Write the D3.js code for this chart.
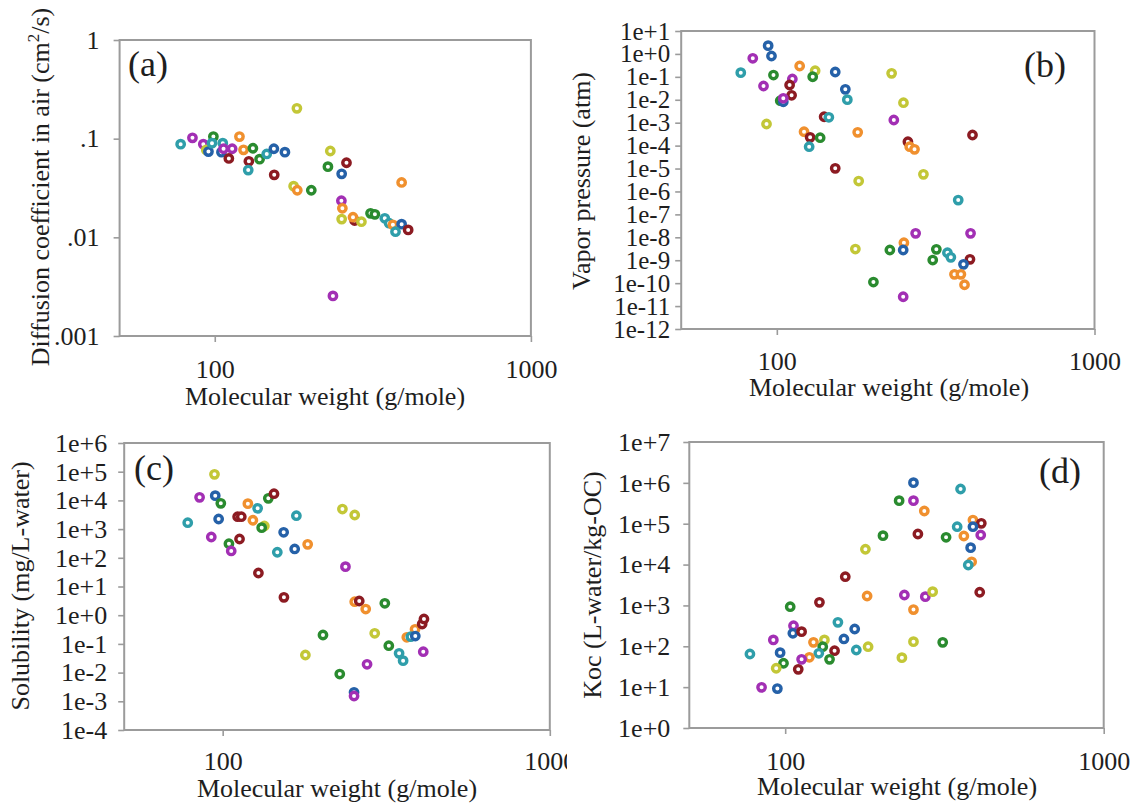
<!DOCTYPE html>
<html>
<head>
<meta charset="utf-8">
<script src="https://cdn.jsdelivr.net/npm/d3@7"></script>
<style>
  body { margin: 0; background: #fff; }
  svg { display: block; }
  text { font-family: "Liberation Serif", "Times New Roman", serif; fill: #1e1e1e; }
</style>
</head>
<body>
<svg id="chart" width="1136" height="808"></svg>
<script>
// Marker colours, one per chemical group
const palette = {
  teal: "#2f9eaa", purple: "#a22fb4", blue: "#2561a8", green: "#2a8b2f",
  orange: "#f0902e", yellow: "#c3c737", darkred: "#8c1b22"
};

// Each row: [molecular weight (g/mole), property value, colour group]
const diffusionAir = [
  [78, 0.088, "teal"], [85, 0.102, "purple"], [99, 0.105, "green"], [92, 0.088, "purple"],
  [94, 0.077, "yellow"], [95.5, 0.074, "blue"], [98, 0.09, "teal"], [106, 0.09, "teal"],
  [105, 0.073, "blue"], [106.6, 0.079, "purple"], [113.5, 0.079, "purple"], [110.8, 0.063, "darkred"],
  [119.7, 0.105, "orange"], [123.3, 0.077, "orange"], [132, 0.08, "green"], [128.2, 0.059, "darkred"],
  [127.6, 0.048, "teal"], [138.6, 0.062, "green"], [146, 0.07, "teal"], [153.8, 0.079, "blue"],
  [166.7, 0.073, "blue"], [154.2, 0.043, "darkred"], [181.9, 0.203, "yellow"], [232, 0.075, "yellow"],
  [228, 0.052, "green"], [261, 0.057, "darkred"], [252, 0.044, "blue"], [177.6, 0.033, "yellow"],
  [182.4, 0.030, "orange"], [202, 0.030, "green"], [390, 0.036, "orange"], [251.5, 0.0235, "purple"],
  [253.3, 0.0197, "orange"], [252, 0.0153, "yellow"], [277, 0.0148, "darkred"], [273.7, 0.016, "orange"],
  [291, 0.0144, "yellow"], [311, 0.0175, "green"], [321, 0.0171, "green"], [345, 0.0156, "teal"],
  [356, 0.0139, "teal"], [366, 0.0134, "orange"], [390, 0.0136, "blue"], [373, 0.0114, "teal"],
  [409, 0.0119, "darkred"], [236.5, 0.00255, "purple"]
];

const vaporPressure = [
  [93.9, 2.29, "blue"], [96.2, 0.81, "blue"], [84, 0.644, "purple"], [77, 0.152, "teal"],
  [97.6, 0.12, "green"], [118, 0.297, "orange"], [132, 0.185, "yellow"], [129.7, 0.101, "green"],
  [152.7, 0.163, "blue"], [111.9, 0.0805, "purple"], [109.7, 0.044, "darkred"], [90.8, 0.0398, "purple"],
  [111.3, 0.0157, "darkred"], [102.5, 0.0091, "green"], [104.8, 0.0082, "blue"], [104.8, 0.0116, "purple"],
  [164.3, 0.0286, "blue"], [166.7, 0.0101, "teal"], [140.9, 0.00182, "darkred"], [145.8, 0.00172, "teal"],
  [92.8, 0.000875, "yellow"], [121.8, 4.04e-4, "orange"], [127.3, 2.3e-4, "darkred"], [136.9, 2.21e-4, "green"],
  [126.4, 8.95e-5, "teal"], [179.7, 3.8e-4, "orange"], [152.7, 1.02e-5, "darkred"], [181, 2.85e-6, "yellow"],
  [229.8, 0.1426, "yellow"], [250.4, 0.00745, "yellow"], [233.5, 1.31e-3, "purple"], [258.6, 1.48e-4, "darkred"],
  [262, 8.95e-5, "orange"], [271.3, 6.9e-5, "orange"], [413, 2.9e-4, "darkred"], [289.4, 5.6e-6, "yellow"],
  [372.4, 4.2e-7, "teal"], [273.5, 1.49e-8, "purple"], [407.2, 1.49e-8, "purple"], [251.2, 5.8e-9, "orange"],
  [249.9, 2.79e-9, "blue"], [226.9, 2.79e-9, "green"], [176.7, 3.08e-9, "yellow"], [317.8, 2.99e-9, "green"],
  [309.6, 1.02e-9, "green"], [344.4, 2.12e-9, "teal"], [353, 1.34e-9, "teal"], [405.5, 1.09e-9, "darkred"],
  [386.9, 6.6e-10, "blue"], [362.4, 2.43e-10, "orange"], [379.7, 2.43e-10, "orange"], [389.8, 8.5e-11, "orange"],
  [201.4, 1.12e-10, "green"], [249.9, 2.55e-11, "purple"]
];

const solubility = [
  [94.4, 8.1e4, "yellow"], [85, 1.28e4, "purple"], [94.9, 1.46e4, "blue"], [98.7, 7.9e3, "green"],
  [119.4, 7.7e3, "orange"], [127.9, 5.3e3, "teal"], [137.9, 1.18e4, "green"], [143.5, 1.71e4, "darkred"],
  [78.2, 1.67e3, "teal"], [97.2, 2.25e3, "blue"], [111.1, 2.7e3, "darkred"], [114, 2.7e3, "darkred"],
  [123.7, 2.03e3, "orange"], [134.1, 1.28e3, "yellow"], [131.6, 1.12e3, "green"], [168, 2.93e3, "teal"],
  [153.6, 774, "blue"], [92.3, 531, "purple"], [104.5, 310, "green"], [112.6, 452, "darkred"],
  [106.2, 173, "purple"], [146.9, 156, "teal"], [166, 203, "blue"], [181.9, 295, "orange"],
  [232.3, 5.0e3, "yellow"], [253.3, 3.1e3, "yellow"], [237.3, 49, "purple"], [128.6, 29.5, "darkred"],
  [153.9, 4.2, "darkred"], [253.3, 2.95, "orange"], [261.5, 3.13, "darkred"], [273.7, 1.64, "orange"],
  [313.1, 2.6, "green"], [202.6, 0.204, "green"], [291.6, 0.234, "yellow"], [322, 0.0865, "green"],
  [346.2, 0.047, "teal"], [356.1, 0.026, "teal"], [179, 0.041, "yellow"], [276.3, 0.0195, "purple"],
  [228, 0.0089, "green"], [252.1, 0.00206, "blue"], [252.1, 0.00153, "purple"], [387.3, 0.323, "orange"],
  [365.5, 0.17, "orange"], [375.9, 0.178, "teal"], [388, 0.188, "blue"], [407.2, 0.493, "darkred"],
  [412.4, 0.738, "darkred"], [410.4, 0.0535, "purple"]
];

const kocValues = [
  [180.8, 1.7e3, "orange"], [236.7, 1.8e3, "purple"], [252.8, 790, "orange"], [252.8, 130, "yellow"],
  [103.7, 931, "green"], [128.1, 1.19e3, "darkred"], [106.2, 319, "purple"], [105.7, 208, "blue"],
  [112.6, 228, "darkred"], [91.8, 143, "purple"], [146.4, 386, "teal"], [165.3, 265, "blue"],
  [152.9, 151, "blue"], [182.1, 97.7, "yellow"], [167.2, 81, "teal"], [122.7, 125, "orange"],
  [132.8, 143, "yellow"], [131.2, 97.7, "green"], [127.5, 67.4, "teal"], [142.9, 78, "darkred"],
  [137.8, 48, "green"], [119.1, 53.8, "orange"], [112.6, 48, "purple"], [109.9, 27.3, "darkred"],
  [77.5, 64.8, "teal"], [96.4, 69.7, "blue"], [98.8, 38.4, "green"], [93.7, 29, "yellow"],
  [84.3, 9.9, "purple"], [94.5, 9.2, "blue"], [232.5, 52.6, "yellow"], [312.3, 125, "green"],
  [252.8, 1.01e6, "blue"], [355.3, 7.08e5, "teal"], [227.9, 3.66e5, "green"], [252.8, 3.66e5, "purple"],
  [273.4, 2.05e5, "orange"], [388.6, 1.23e5, "orange"], [412.8, 1.02e5, "darkred"], [388.6, 8.45e4, "blue"],
  [346.7, 8.45e4, "teal"], [411.1, 5.3e4, "purple"], [363.9, 5.0e4, "orange"], [320, 4.65e4, "green"],
  [261, 5.6e4, "darkred"], [202.8, 5.1e4, "green"], [178.6, 2.37e4, "yellow"], [382.2, 2.59e4, "blue"],
  [385, 1.17e4, "orange"], [375.6, 9.77e3, "teal"], [154.4, 5.05e3, "darkred"], [275.4, 1.64e3, "purple"],
  [290.4, 2.17e3, "yellow"], [408.1, 2.1e3, "darkred"]
];

// Axis tick values and their printed labels
const mwTicks = [100, 1000];
const mwTickLabels = ["100", "1000"];
const diffTicks = [1, 0.1, 0.01, 0.001];
const diffTickLabels = ["1", ".1", ".01", ".001"];
const vpTicks = [1e1, 1e0, 1e-1, 1e-2, 1e-3, 1e-4, 1e-5, 1e-6, 1e-7, 1e-8, 1e-9, 1e-10, 1e-11, 1e-12];
const vpTickLabels = ["1e+1", "1e+0", "1e-1", "1e-2", "1e-3", "1e-4", "1e-5", "1e-6", "1e-7", "1e-8", "1e-9", "1e-10", "1e-11", "1e-12"];
const solTicks = [1e6, 1e5, 1e4, 1e3, 1e2, 1e1, 1e0, 1e-1, 1e-2, 1e-3, 1e-4];
const solTickLabels = ["1e+6", "1e+5", "1e+4", "1e+3", "1e+2", "1e+1", "1e+0", "1e-1", "1e-2", "1e-3", "1e-4"];
const kocTicks = [1e7, 1e6, 1e5, 1e4, 1e3, 1e2, 1e1, 1e0];
const kocTickLabels = ["1e+7", "1e+6", "1e+5", "1e+4", "1e+3", "1e+2", "1e+1", "1e+0"];

const xTitle = "Molecular weight (g/mole)";

const panels = [
  { tag: "(a)", data: diffusionAir, yTicks: diffTicks, yLabels: diffTickLabels,
    yDomain: [0.001, 1], left: 119.6, right: 530.9, top: 40, bottom: 336,
    yPad: 14, xPad: 18, yFont: 26, tagX: 128, tagY: 76,
    xTitleX: 325, xTitleY: 405, yTitleX: 48.5, yTitleY: 187,
    yTitle: [["Diffusion coefficient in air (cm", 0], ["2", 1], ["/s)", 0]] },
  { tag: "(b)", data: vaporPressure, yTicks: vpTicks, yLabels: vpTickLabels,
    yDomain: [1e-12, 1e1], left: 681.2, right: 1094.5, top: 31, bottom: 329,
    yPad: 5, xPad: 16.5, yFont: 25, tagX: 1024, tagY: 77,
    xTitleX: 889, xTitleY: 396, yTitleX: 590, yTitleY: 181,
    yTitle: [["Vapor pressure (atm)", 0]] },
  { tag: "(c)", data: solubility, yTicks: solTicks, yLabels: solTickLabels,
    yDomain: [1e-4, 1e6], left: 124.2, right: 549.8, top: 443, bottom: 730,
    yPad: 11, xPad: 15.5, yFont: 26, tagX: 134, tagY: 480, clip: 567,
    xTitleX: 337, xTitleY: 797, yTitleX: 29, yTitleY: 586,
    yTitle: [["Solubility (mg/L-water)", 0]] },
  { tag: "(d)", data: kocValues, yTicks: kocTicks, yLabels: kocTickLabels,
    yDomain: [1, 1e7], left: 689.3, right: 1103.7, top: 442, bottom: 728,
    yPad: 13, xPad: 17.5, yFont: 26, tagX: 1039, tagY: 483,
    xTitleX: 897, xTitleY: 795, yTitleX: 601, yTitleY: 585,
    yTitle: [["Koc (L-water/kg-OC)", 0]] }
];

const svg = d3.select("#chart");
const frameColor = "#9b9b9b";

panels.forEach((p, idx) => {
  let g = svg.append("g");
  if (p.clip) {
    const id = "clip" + idx;
    svg.append("clipPath").attr("id", id)
      .append("rect").attr("x", 0).attr("y", 0).attr("width", p.clip).attr("height", 808);
    g.attr("clip-path", `url(#${id})`);
  }

  const x = d3.scaleLog().domain([50, 1000]).range([p.left, p.right]);
  const y = d3.scaleLog().domain(p.yDomain).range([p.bottom, p.top]);

  // y axis
  const yAxis = g.append("g")
    .attr("transform", `translate(${p.left},0)`)
    .call(d3.axisLeft(y).tickValues(p.yTicks)
      .tickFormat(d => p.yLabels[p.yTicks.indexOf(d)])
      .tickSize(6).tickPadding(p.yPad));
  // x axis
  const xAxis = g.append("g")
    .attr("transform", `translate(0,${p.bottom})`)
    .call(d3.axisBottom(x).tickValues(mwTicks)
      .tickFormat(d => mwTickLabels[mwTicks.indexOf(d)])
      .tickSize(6).tickPadding(p.xPad));
  [yAxis, xAxis].forEach(a => {
    a.select(".domain").remove();
    a.selectAll(".tick line").attr("stroke", frameColor).attr("stroke-width", 1.6);
    a.selectAll(".tick text")
      .attr("font-family", '"Liberation Serif", "Times New Roman", serif').attr("fill", "#1e1e1e");
  });
  yAxis.selectAll(".tick text").attr("font-size", p.yFont);
  xAxis.selectAll(".tick text").attr("font-size", 26);

  // plot frame
  g.append("rect")
    .attr("x", p.left).attr("y", p.top)
    .attr("width", p.right - p.left).attr("height", p.bottom - p.top)
    .attr("fill", "none").attr("stroke", frameColor).attr("stroke-width", 2);

  // hollow markers
  g.append("g").selectAll("circle").data(p.data).join("circle")
    .attr("cx", d => x(d[0])).attr("cy", d => y(d[1]))
    .attr("r", 3.7)
    .attr("fill", "#fff")
    .attr("stroke", d => palette[d[2]])
    .attr("stroke-width", 3.4);

  // panel tag
  g.append("text").attr("x", p.tagX).attr("y", p.tagY)
    .attr("font-size", 36).text(p.tag);

  // axis titles
  g.append("text").attr("x", p.xTitleX).attr("y", p.xTitleY)
    .attr("text-anchor", "middle").attr("font-size", 26).text(xTitle);

  const yt = g.append("text")
    .attr("transform", `translate(${p.yTitleX},${p.yTitleY}) rotate(-90)`)
    .attr("text-anchor", "middle").attr("font-size", 26);
  p.yTitle.forEach(([s, sup], i) => {
    const t = yt.append("tspan").text(s);
    if (sup) t.attr("font-size", 17).attr("dy", -10);
    else if (i > 0) t.attr("dy", 10);
  });
});
</script>
</body>
</html>
